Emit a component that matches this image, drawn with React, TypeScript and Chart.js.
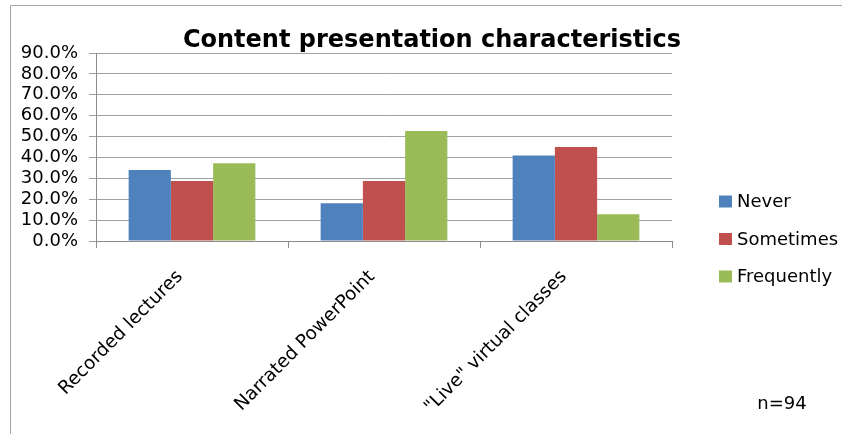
import React, { useEffect, useRef } from "react";
import { Chart, registerables } from "chart.js";

Chart.register(...registerables);

const categories = ["Recorded lectures", "Narrated PowerPoint", "\"Live\" virtual classes"];
const seriesNames = ["Never", "Sometimes", "Frequently"];
const neverValues = [34.0, 18.1, 40.9];
const sometimesValues = [28.7, 28.7, 45.0];
const frequentlyValues = [37.2, 52.7, 12.8];
const seriesColors = ["#4F81BD", "#C0504D", "#9BBB59"];
const titleText = "Content presentation characteristics";
const noteText = "n=94";
const yMax = 90;
const yStep = 10;

const FONT = "'DejaVu Sans', sans-serif";

const decorPlugin = {
  id: "decor",
  beforeDraw(chart: any) {
    const ctx = chart.ctx;
    ctx.save();
    ctx.fillStyle = "#ffffff";
    ctx.fillRect(0, 0, chart.width, chart.height);
    ctx.strokeStyle = "#a6a6a6";
    ctx.lineWidth = 1;
    ctx.beginPath();
    ctx.moveTo(10.5, chart.height);
    ctx.lineTo(10.5, 5.5);
    ctx.lineTo(chart.width, 5.5);
    ctx.stroke();
    ctx.restore();
  },
  afterDraw(chart: any) {
    const ctx = chart.ctx;
    const area = chart.chartArea;
    ctx.save();
    // title
    ctx.fillStyle = "#000000";
    ctx.font = "bold 24px " + FONT;
    ctx.textAlign = "center";
    ctx.textBaseline = "alphabetic";
    ctx.fillText(titleText, 432, 47);
    // legend
    const lx = area.right + 47;
    const ly0 = 201.5;
    const gap = 37.5;
    ctx.font = "18px " + FONT;
    ctx.textAlign = "left";
    ctx.textBaseline = "middle";
    chart.data.datasets.forEach((ds: any, i: number) => {
      const cy = ly0 + i * gap;
      ctx.fillStyle = ds.backgroundColor;
      ctx.fillRect(lx, cy - 6, 13, 12);
      ctx.fillStyle = "#000000";
      ctx.fillText(ds.label, lx + 18, cy + 1);
    });
    // note
    ctx.font = "18px " + FONT;
    ctx.textAlign = "center";
    ctx.fillText(noteText, 782, 404);
    ctx.restore();
  },
};

export default function App() {
  const ref = useRef<HTMLCanvasElement | null>(null);
  useEffect(() => {
    if (!ref.current) return;
    const values = [neverValues, sometimesValues, frequentlyValues];
    const chart = new Chart(ref.current, {
      type: "bar",
      data: {
        labels: categories,
        datasets: seriesNames.map((name, i) => ({
          label: name,
          data: values[i],
          backgroundColor: seriesColors[i],
          borderWidth: 0,
          categoryPercentage: 0.66,
          barPercentage: 1.0,
        })),
      },
      options: {
        animation: false,
        responsive: false,
        maintainAspectRatio: false,
        layout: { padding: { top: 53, right: 170, left: 0, bottom: 0 } },
        plugins: {
          legend: { display: false },
          title: { display: false },
          tooltip: { enabled: false },
        },
        scales: {
          x: {
            grid: {
              offset: true,
              drawOnChartArea: false,
              drawTicks: true,
              tickLength: 7,
              color: "#8c8c8c",
            },
            border: { color: "#8c8c8c" },
            ticks: {
              minRotation: 45,
              maxRotation: 45,
              autoSkip: false,
              padding: 18,
              labelOffset: -12,
              color: "#000000",
              font: { family: FONT, size: 18.5 },
            },
            afterFit(scale: any) {
              scale.height = 193;
            },
          },
          y: {
            min: 0,
            max: yMax,
            grid: {
              color: "#a0a0a0",
              drawTicks: true,
              tickLength: 7,
            },
            border: { color: "#8c8c8c" },
            ticks: {
              stepSize: yStep,
              autoSkip: false,
              padding: 11,
              color: "#000000",
              font: { family: FONT, size: 18 },
              callback: (v: any) => Number(v).toFixed(1) + "%",
            },
            afterFit(scale: any) {
              scale.width = 96;
            },
          },
        },
      },
      plugins: [decorPlugin],
    });
    return () => chart.destroy();
  }, []);
  return (
    <div style={{ position: "absolute", left: 0, top: 0, width: 842, height: 434, background: "#fff" }}>
      <canvas ref={ref} width={842} height={434} style={{ width: 842, height: 434, display: "block" }} />
    </div>
  );
}
